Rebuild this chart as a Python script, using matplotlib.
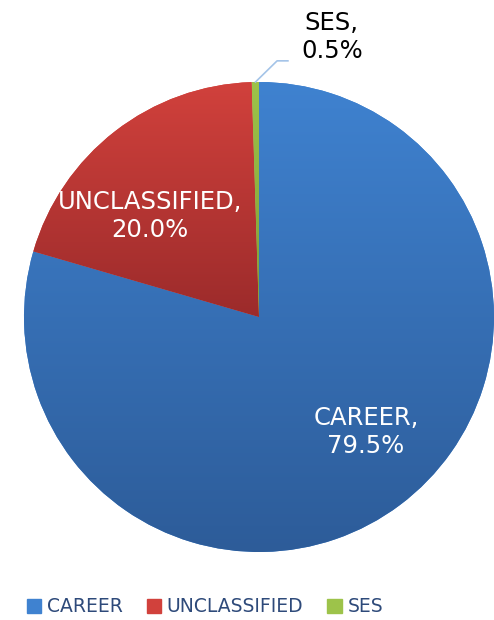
import numpy as np
import matplotlib.pyplot as plt
from matplotlib.colors import LinearSegmentedColormap

# Workforce share by category
categories = ["CAREER", "UNCLASSIFIED", "SES"]
shares = [79.5, 20.0, 0.5]

top_colors = ["#3F82D0", "#D1413C", "#9DC34A"]
bottom_colors = ["#2D5C99", "#9C2B2B", "#7E9E36"]

fig = plt.figure(figsize=(4.94, 6.2), dpi=100)
ax = fig.add_axes([259 / 494 - 235 / 494, 1 - 552 / 620, 470 / 494, 470 / 620])

wedges, _ = ax.pie(shares, startangle=90, counterclock=False,
                   colors=top_colors, radius=1.0)
ax.set_aspect("equal")
ax.axis("off")

# Vertical gradient within each wedge, clipped to the wedge shape
for w, c0, c1 in zip(wedges, top_colors, bottom_colors):
    w.set_edgecolor("none")
    bb = w.get_path().get_extents(w.get_transform()).transformed(
        ax.transData.inverted())
    cmap = LinearSegmentedColormap.from_list("g", [c1, c0])
    grad = np.linspace(0, 1, 256).reshape(-1, 1)
    im = ax.imshow(grad, cmap=cmap, origin="lower", aspect="auto",
                   extent=[bb.x0, bb.x1, bb.y0, bb.y1], zorder=w.get_zorder())
    im.set_clip_path(w)

ax.set_xlim(-1, 1)
ax.set_ylim(-1, 1)

ax.text(0.455, -0.49, f"{categories[0]},\n{shares[0]:.1f}%", color="white",
        fontsize=17.5, ha="center", va="center")
ax.text(-0.465, 0.43, f"{categories[1]},\n{shares[1]:.1f}%", color="white",
        fontsize=17.5, ha="center", va="center")
ax.text(0.31, 1.19, f"{categories[2]},\n{shares[2]:.1f}%", color="black",
        fontsize=17.5, ha="center", va="center", clip_on=False)

# Leader line for the small slice
ax.plot([-0.015, 0.077, 0.123], [1.0, 1.09, 1.09], color="#A4C4E8", lw=1.2,
        clip_on=False)

handles = [plt.Rectangle((0, 0), 1, 1, color=c) for c in top_colors]
fig.legend(handles, categories, loc="center", bbox_to_anchor=(205 / 494, 1 - 607 / 620),
           ncol=3, frameon=False, fontsize=13.5, handlelength=0.75,
           handleheight=0.75, handletextpad=0.32, columnspacing=1.28,
           labelcolor="#2E4A7A", borderpad=0)

fig.savefig("out.png", dpi=100)
